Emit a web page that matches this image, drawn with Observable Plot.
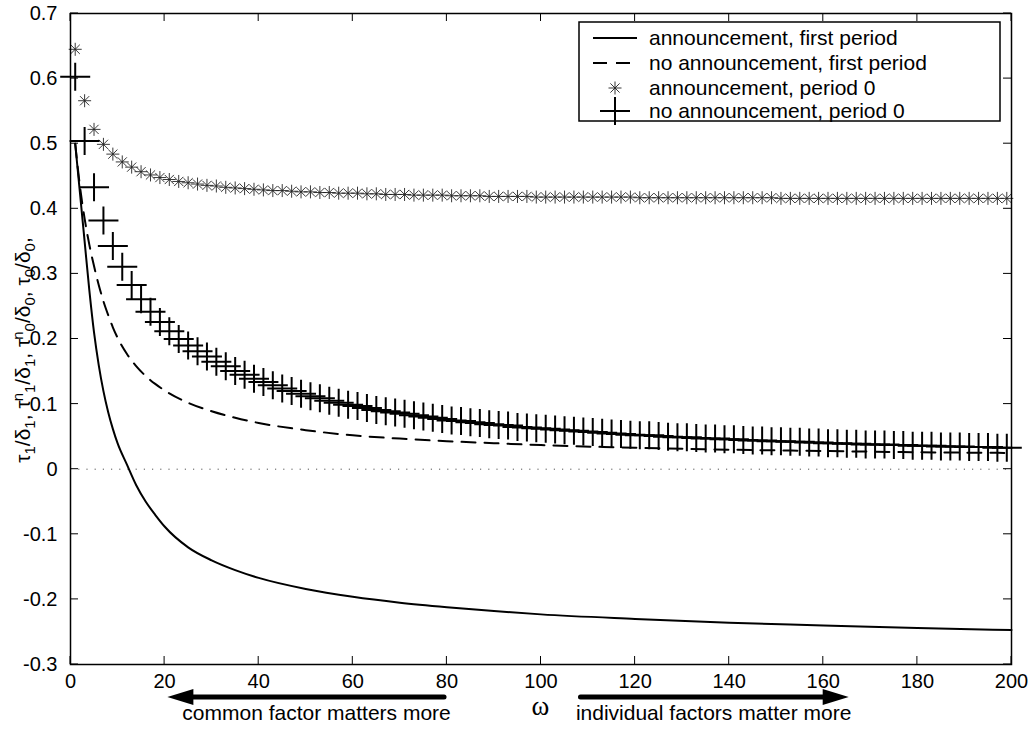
<!DOCTYPE html>
<html><head><meta charset="utf-8">
<script src="https://cdn.jsdelivr.net/npm/d3@7"></script>
<script src="https://cdn.jsdelivr.net/npm/@observablehq/plot@0.6"></script>
<style>
body{margin:0;background:#fff;font-family:"Liberation Sans",Arial,sans-serif;}
</style></head><body><div id="chart"></div>
<script>
// ---------- data ----------
const xTicks = [0,20,40,60,80,100,120,140,160,180,200];
const yTicks = [-0.3,-0.2,-0.1,0,0.1,0.2,0.3,0.4,0.5,0.6,0.7];

const lineOmega = [1,2,3,4,5,6,7,8,9,10,12,14,16,18,20,25,30,35,40,50,60,70,80,90,100,120,140,160,180,200];
const announceFirst = [0.50,0.425,0.35,0.275,0.21,0.16,0.12,0.088,0.062,0.04,0.007,-0.025,-0.05,-0.07,-0.088,-0.12,-0.14,-0.155,-0.167,-0.184,-0.196,-0.205,-0.212,-0.218,-0.223,-0.230,-0.236,-0.240,-0.244,-0.247];
const noAnnounceFirst = [0.50,0.435,0.385,0.345,0.312,0.283,0.258,0.237,0.218,0.202,0.177,0.158,0.143,0.131,0.121,0.102,0.089,0.079,0.071,0.060,0.052,0.047,0.043,0.040,0.037,0.033,0.030,0.028,0.026,0.025];

const markerOmega = [1,3,5,7,9,11,13,15,17,19,21,23,25,27,29,31,33,35,37,39,41,43,45,47,49,51,53,55,57,59,61,63,65,67,69,71,73,75,77,79,81,83,85,87,89,91,93,95,97,99,101,103,105,107,109,111,113,115,117,119,121,123,125,127,129,131,133,135,137,139,141,143,145,147,149,151,153,155,157,159,161,163,165,167,169,171,173,175,177,179,181,183,185,187,189,191,193,195,197,199];
const announcePeriod0 = [0.645,0.566,0.522,0.499,0.484,0.472,0.464,0.457,0.452,0.448,0.445,0.442,0.440,0.438,0.436,0.435,0.433,0.432,0.431,0.430,0.429,0.428,0.428,0.427,0.426,0.426,0.425,0.425,0.424,0.424,0.424,0.423,0.423,0.422,0.422,0.422,0.421,0.421,0.421,0.421,0.420,0.420,0.420,0.420,0.419,0.419,0.419,0.419,0.419,0.418,0.418,0.418,0.418,0.418,0.418,0.418,0.418,0.418,0.418,0.418,0.417,0.417,0.417,0.417,0.417,0.417,0.417,0.417,0.417,0.417,0.417,0.417,0.417,0.417,0.417,0.416,0.416,0.416,0.416,0.416,0.416,0.416,0.416,0.416,0.416,0.416,0.416,0.416,0.416,0.416,0.416,0.416,0.416,0.416,0.416,0.416,0.416,0.416,0.416,0.416];
const noAnnouncePeriod0 = [0.603,0.504,0.433,0.382,0.343,0.311,0.283,0.261,0.242,0.226,0.212,0.200,0.190,0.181,0.173,0.165,0.158,0.151,0.145,0.139,0.134,0.129,0.124,0.120,0.116,0.112,0.109,0.105,0.102,0.099,0.097,0.094,0.091,0.089,0.087,0.085,0.083,0.081,0.079,0.077,0.075,0.074,0.072,0.071,0.069,0.068,0.067,0.065,0.064,0.063,0.062,0.061,0.060,0.059,0.058,0.057,0.056,0.055,0.054,0.053,0.052,0.052,0.051,0.050,0.049,0.049,0.048,0.047,0.047,0.046,0.046,0.045,0.044,0.044,0.043,0.043,0.042,0.042,0.041,0.041,0.040,0.040,0.039,0.039,0.038,0.038,0.038,0.037,0.037,0.036,0.036,0.036,0.035,0.035,0.035,0.034,0.034,0.034,0.033,0.033];

const seriesNames = ["announcement, first period","no announcement, first period","announcement, period 0","no announcement, period 0"];
const xLabel = "ω";
const leftNote = "common factor matters more";
const rightNote = "individual factors matter more";

// ---------- tables ----------
const firstA = lineOmega.map((w,i)=>({w, v: announceFirst[i]}));
const firstN = lineOmega.map((w,i)=>({w, v: noAnnounceFirst[i]}));
const p0A = markerOmega.map((w,i)=>({w, v: announcePeriod0[i]}));
const p0N = markerOmega.map((w,i)=>({w, v: noAnnouncePeriod0[i]}));

// custom marker symbols (MATLAB style)
const SR = 6.5;
const starSymbol = {draw(ctx){const r=SR,d=r*0.7071;
  ctx.moveTo(-r,0);ctx.lineTo(r,0);ctx.moveTo(0,-r);ctx.lineTo(0,r);
  ctx.moveTo(-d,-d);ctx.lineTo(d,d);ctx.moveTo(-d,d);ctx.lineTo(d,-d);}};
const plusSymbol = {draw(ctx){ctx.moveTo(-15,0);ctx.lineTo(15,0);ctx.moveTo(0,-14);ctx.lineTo(0,14);}};

const font = "Liberation Sans, Arial, sans-serif";
const plot = Plot.plot({
  width: 1029, height: 729,
  marginLeft: 70, marginRight: 18, marginTop: 13, marginBottom: 65,
  style: {fontFamily: font, fontSize: "20px", color: "#000", background: "#fff", overflow: "visible"},
  x: {domain: [0,200], label: null},
  y: {domain: [-0.3,0.7], label: null},
  marks: [
    Plot.ruleY([0], {stroke: "#555", strokeWidth: 1, strokeDasharray: "1.2,7"}),
    Plot.line(firstA, {x: "w", y: "v", stroke: "#000", strokeWidth: 2, curve: "monotone-x"}),
    Plot.line(firstN, {x: "w", y: "v", stroke: "#000", strokeWidth: 2, strokeDasharray: "14,9", curve: "monotone-x"}),
    Plot.dot(p0A, {x: "w", y: "v", symbol: starSymbol, stroke: "#222", strokeWidth: 0.9, fill: "none", r: 5}),
    Plot.dot(p0N, {x: "w", y: "v", symbol: plusSymbol, stroke: "#000", strokeWidth: 2, fill: "none", r: 5}),
    Plot.frame({stroke: "#000", strokeWidth: 1.5}),
    Plot.axisX({ticks: xTicks, tickSize: 0, tickPadding: 9, tickFormat: d => String(d)}),
    Plot.axisY({ticks: yTicks, tickSize: 0, tickPadding: 13, tickFormat: d => String(Math.round(d*10)/10)})
  ]
});
document.getElementById("chart").appendChild(plot);

// ---------- inward ticks, legend, axis title and notes ----------
const svg = d3.select(plot);
const sx = plot.scale("x"), sy = plot.scale("y");
const g = svg.append("g").attr("font-family", font).attr("fill", "#000").attr("text-anchor", "start");

const L = sx.apply(0), R = sx.apply(200), T = sy.apply(0.7), B = sy.apply(-0.3), TL = 8;
let tp = "";
xTicks.forEach(t => { const x = sx.apply(t); tp += `M${x},${B}v${-TL}M${x},${T}v${TL}`; });
yTicks.forEach(t => { const y = sy.apply(t); tp += `M${L},${y}h${TL}M${R},${y}h${-TL}`; });
g.append("path").attr("d", tp).attr("stroke", "#000").attr("stroke-width", 1).attr("fill", "none");

// legend box
const lx = 579, ly = 22, lw = 421, lh = 99;
g.append("rect").attr("x", lx).attr("y", ly).attr("width", lw).attr("height", lh)
  .attr("fill", "#fff").attr("stroke", "#000").attr("stroke-width", 1.5);
const rowY = [38, 63, 88, 111];
const sx0 = 593, sx1 = 637, sxc = 615;
g.append("line").attr("x1", sx0).attr("x2", sx1).attr("y1", rowY[0]).attr("y2", rowY[0]).attr("stroke", "#000").attr("stroke-width", 2);
g.append("line").attr("x1", sx0).attr("x2", sx1).attr("y1", rowY[1]).attr("y2", rowY[1]).attr("stroke", "#000").attr("stroke-width", 2).attr("stroke-dasharray", "14,9");
{
  const r = SR, d = r*0.7071, c = sxc, y = rowY[2];
  g.append("path").attr("d", `M${c-r},${y}H${c+r}M${c},${y-r}V${y+r}M${c-d},${y-d}L${c+d},${y+d}M${c-d},${y+d}L${c+d},${y-d}`).attr("stroke", "#222").attr("stroke-width", 0.9).attr("fill", "none");
  const y4 = rowY[3];
  g.append("path").attr("d", `M${c-15},${y4}H${c+15}M${c},${y4-14}V${y4+14}`).attr("stroke", "#000").attr("stroke-width", 2).attr("fill", "none");
}
seriesNames.forEach((s, i) => {
  g.append("text").attr("x", 649).attr("y", rowY[i]).attr("dy", "0.35em").attr("font-size", 21).attr("text-anchor", "start").text(s);
});

// y-axis title (rotated)
const yt = g.append("text").attr("transform", "translate(30,350) rotate(-90)").attr("text-anchor", "middle").attr("font-size", 21);
const parts = [["τ"],["1","sub"],["/δ"],["1","sub"],[", τ"],["n","sup"],["1","sub"],["/δ"],["1","sub"],[", τ"],["n","sup"],["0","sub"],["/δ"],["0","sub"],[", τ"],["0","sub"],["/δ"],["0","sub"],[","]];
parts.forEach(([t, k]) => {
  const ts = yt.append("tspan").text(t);
  if (k === "sub") ts.attr("baseline-shift", "-35%").attr("font-size", 15);
  if (k === "sup") ts.attr("baseline-shift", "45%").attr("font-size", 15).attr("dx", -1);
});

// bottom notes with arrows
const ay = B + 33;
function arrow(from, to) {
  const x0 = sx.apply(from), x1 = sx.apply(to);
  const dir = Math.sign(x1 - x0), hl = 26, hw = 8;
  g.append("line").attr("x1", x0).attr("x2", x1 - dir*hl).attr("y1", ay).attr("y2", ay)
    .attr("stroke", "#000").attr("stroke-width", 5).attr("stroke-linecap", "round");
  g.append("path").attr("d", `M${x1},${ay}L${x1 - dir*hl},${ay-hw}L${x1 - dir*hl},${ay+hw}Z`).attr("fill", "#000");
}
arrow(79.5, 20.7);
arrow(108.5, 165.5);
g.append("text").attr("x", sx.apply(52.4)).attr("y", B + 56).attr("text-anchor", "middle").attr("font-size", 21).text(leftNote);
g.append("text").attr("x", sx.apply(136.8)).attr("y", B + 56).attr("text-anchor", "middle").attr("font-size", 21).text(rightNote);
g.append("text").attr("x", sx.apply(100)).attr("y", B + 51).attr("text-anchor", "middle").attr("font-size", 27)
  .attr("font-family", "Liberation Serif, Times New Roman, serif").text(xLabel);
</script></body></html>
